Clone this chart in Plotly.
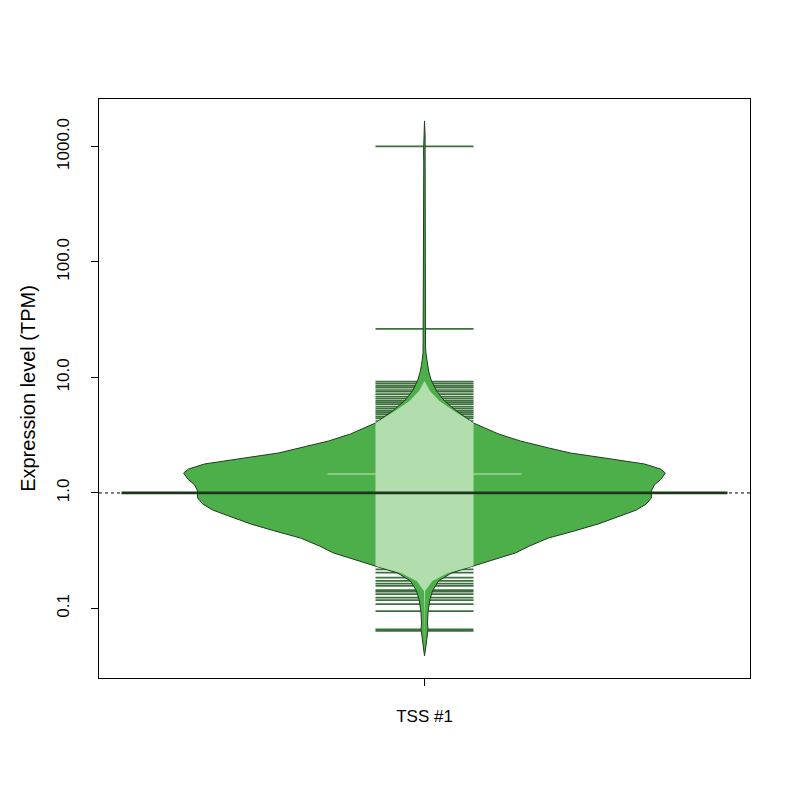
import numpy as np
import plotly.graph_objects as go

# ---- data ----
category = ["TSS #1"]
# bean (density) outline: log10(TPM) positions and relative density (0..1)
dens_log10 = [3.221, 3.091, 3.048, 3.0, 2.944, 2.874, 1.576, 1.489, 1.42, 1.351, 1.273,
              1.212, 1.143, 1.056, 0.970, 0.883, 0.797, 0.710, 0.606, 0.511, 0.45, 0.390,
              0.346, 0.303, 0.251, 0.208, 0.173, 0.121, 0.069, 0.017, -0.043, -0.095,
              -0.147, -0.199, -0.268, -0.329, -0.390, -0.459, -0.519, -0.571, -0.632,
              -0.693, -0.762, -0.848, -0.935, -1.039, -1.126, -1.186, -1.247, -1.325, -1.411]
dens_rel = [0.0, 0.0025, 0.004, 0.005, 0.004, 0.003, 0.003, 0.004, 0.005, 0.004, 0.004,
            0.006, 0.010, 0.017, 0.029, 0.050, 0.083, 0.133, 0.203, 0.307, 0.398, 0.515,
            0.606, 0.747, 0.913, 0.979, 1.0, 0.983, 0.954, 0.942, 0.942, 0.921,
            0.880, 0.813, 0.722, 0.622, 0.515, 0.436, 0.378, 0.299, 0.203,
            0.112, 0.058, 0.033, 0.021, 0.0145, 0.0125, 0.0145, 0.010, 0.006, 0.0]
# individual observations shown as bean lines (TPM)
obs_high = [1000.0, 26.3, 9.19, 8.84, 8.44, 8.16, 7.79, 7.53, 7.16, 6.82, 6.55, 6.26, 6.05,
            5.86, 5.59, 5.37, 5.13, 4.96, 4.80, 4.58, 4.43, 4.20]
obs_low = [0.233, 0.218, 0.204, 0.185, 0.173, 0.164, 0.157, 0.144, 0.140, 0.133, 0.124,
           0.118, 0.109, 0.095, 0.066, 0.064]
bean_average = 1.0      # thick bean line
overall_average = 1.0   # dotted line
second_line = 1.46      # thin light line

# ---- styles ----
center = 1.0
max_hw = 0.370
box_hw = 0.0753
avg_hw = 0.4654
light_hw = 0.149
inset = 0.0138
col_bean = "#4DAF4A"
col_border = "#1f3d1f"
col_light = "#B2DDAC"

y_vals = 10 ** np.array(dens_log10)
hw = np.array(dens_rel) * max_hw
hw_light = np.clip(1.2 * hw - inset, 0, box_hw)

fig = go.Figure()

# bean lines (under the bean)
for v in obs_high + obs_low:
    fig.add_trace(go.Scatter(x=[center - box_hw, center + box_hw], y=[v, v], mode="lines",
                             line=dict(color="rgba(44,100,44,0.92)", width=1.7),
                             hoverinfo="skip", showlegend=False))

# bean polygon
fig.add_trace(go.Scatter(
    x=np.concatenate([center - hw, (center + hw)[::-1]]),
    y=np.concatenate([y_vals, y_vals[::-1]]),
    mode="lines", fill="toself", fillcolor=col_bean,
    line=dict(color=col_border, width=1), hoverinfo="skip", showlegend=False))

# thin light line
fig.add_trace(go.Scatter(x=[center - light_hw, center + light_hw], y=[second_line, second_line],
                         mode="lines", line=dict(color="#c4e6c0", width=1.2),
                         hoverinfo="skip", showlegend=False))

# light inner part
fig.add_trace(go.Scatter(
    x=np.concatenate([center - hw_light, (center + hw_light)[::-1]]),
    y=np.concatenate([y_vals, y_vals[::-1]]),
    mode="lines", fill="toself", fillcolor=col_light,
    line=dict(color=col_light, width=0), hoverinfo="skip", showlegend=False))

# overall average dotted line
fig.add_trace(go.Scatter(x=[0.5, 1.5], y=[overall_average, overall_average], mode="lines",
                         line=dict(color="black", width=1, dash="dot"),
                         hoverinfo="skip", showlegend=False))
# bean average
fig.add_trace(go.Scatter(x=[center - avg_hw, center + avg_hw], y=[bean_average, bean_average],
                         mode="lines", line=dict(color="#1b361b", width=2.7),
                         hoverinfo="skip", showlegend=False))

font = dict(family="Liberation Sans, Arial, sans-serif", size=17, color="black")
fig.update_layout(
    width=800, height=800, plot_bgcolor="white", paper_bgcolor="white",
    margin=dict(l=91, r=58, t=91, b=130), font=font, showlegend=False,
    xaxis=dict(range=[0.5, 1.5], tickmode="array", tickvals=[center], ticktext=category,
               ticks="outside", ticklen=7, tickcolor="black", showgrid=False, zeroline=False,
               showline=True, linecolor="black", linewidth=1, mirror=True,
               ticklabelstandoff=16, automargin=False),
    yaxis=dict(type="log", range=[np.log10(0.025), 3.411], tickmode="array",
               tickvals=[0.1, 1, 10, 100, 1000],
               ticktext=["0.1", "1.0", "10.0", "100.0", "1000.0"], tickangle=-90,
               ticks="outside", ticklen=7, tickcolor="black", showgrid=False, zeroline=False,
               showline=True, linecolor="black", linewidth=1, mirror=True,
               ticklabelstandoff=15, automargin=False,
               title=dict(text="Expression level (TPM)", standoff=13)),
)

fig.write_html("out.html")
